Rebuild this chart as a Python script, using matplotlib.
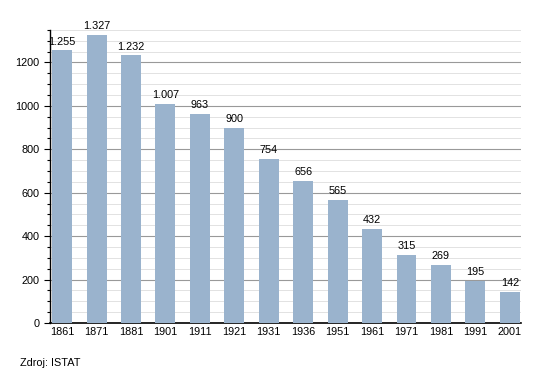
import numpy as np
import matplotlib
matplotlib.use('Agg')
import matplotlib.pyplot as plt
from matplotlib.ticker import MultipleLocator

#data
years=['1861','1871','1881','1901','1911','1921','1931','1936','1951','1961','1971','1981','1991','2001']
population=[1255,1327,1232,1007,963,900,754,656,565,432,315,269,195,142]

plt.rcParams['font.family']=['Liberation Sans','DejaVu Sans']

figure=plt.figure(figsize=(5.5,3.73),dpi=100)
ax=figure.add_axes([0.091,0.134,0.856,0.786])

x=np.arange(len(years))
ax.bar(x,population,width=0.58,color='#9ab3cd',zorder=3)

#value labels with dot separator
for xi,val in zip(x,population):
    label='{:,}'.format(val).replace(',','.')
    ax.text(xi,val+18,label,ha='center',va='bottom',fontsize=7.8,zorder=4)

ax.set_xlim(-0.35,len(years)-0.68)
ax.set_ylim(0,1350)
ax.set_xticks(x)
ax.set_xticklabels(years,fontsize=7.8)
ax.yaxis.set_major_locator(MultipleLocator(200))
ax.yaxis.set_minor_locator(MultipleLocator(50))
ax.tick_params(axis='y',labelsize=7.8,length=4,width=0.8)
ax.tick_params(axis='y',which='minor',length=2,width=0.8)
ax.tick_params(axis='x',length=0,pad=3)

#grid
ax.grid(axis='y',which='major',color='#999999',linewidth=0.8,zorder=0)
ax.grid(axis='y',which='minor',color='#dddddd',linewidth=0.6,zorder=0)

for side in ['top','right']:
    ax.spines[side].set_visible(False)
ax.spines['left'].set_linewidth(1.0)
ax.spines['bottom'].set_linewidth(1.2)

figure.text(0.036,0.02,'Zdroj: ISTAT',fontsize=7.8)

figure.savefig('out.png',dpi=100)
plt.close()
